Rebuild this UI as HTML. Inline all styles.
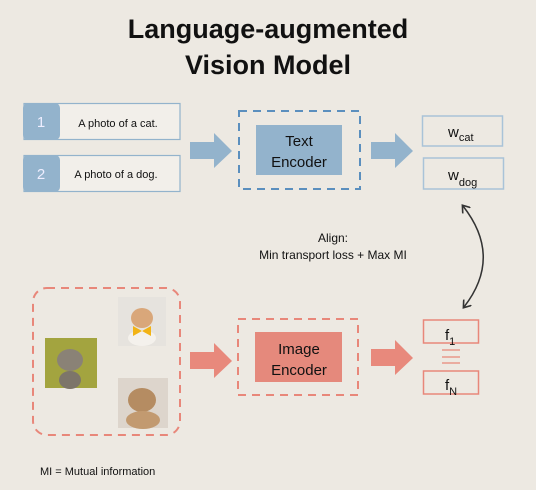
<!DOCTYPE html>
<html><head><style>
body{margin:0;width:536px;height:490px;background:#ede9e2;overflow:hidden;font-family:"Liberation Sans",sans-serif;}
</style></head><body>
<svg width="536" height="490" xmlns="http://www.w3.org/2000/svg" style="position:absolute;left:0;top:0">
<defs>
<marker id="ah" markerWidth="10" markerHeight="10" refX="6" refY="5" orient="auto-start-reverse" markerUnits="userSpaceOnUse"><path d="M0,0 L7,5 L0,10" fill="none" stroke="#333" stroke-width="1.6"/></marker>
</defs>
<text x="268" y="38" text-anchor="middle" font-size="27" font-weight="bold" fill="#111">Language-augmented</text>
<text x="268" y="74" text-anchor="middle" font-size="27" font-weight="bold" fill="#111">Vision Model</text>

<rect x="24" y="103.5" width="156" height="36" fill="#f2efea" stroke="#93b3cc" stroke-width="1.2"/>
<rect x="23" y="103" width="37" height="37" rx="5" fill="#93b3cc"/>
<text x="41" y="127" text-anchor="middle" font-size="15" fill="#eef">1</text>
<text x="118" y="127" text-anchor="middle" font-size="11" fill="#111">A photo of a cat.</text>
<rect x="24" y="155.5" width="156" height="36" fill="#f2efea" stroke="#93b3cc" stroke-width="1.2"/>
<rect x="23" y="155" width="37" height="37" rx="5" fill="#93b3cc"/>
<text x="41" y="179" text-anchor="middle" font-size="15" fill="#eef">2</text>
<text x="116" y="178" text-anchor="middle" font-size="11" fill="#111">A photo of a dog.</text>

<polygon points="190,142 214,142 214,133 232,151 214,168 214,159 190,159" fill="#93b3cc"/>
<polygon points="371,142 395,142 395,133 413,151 395,168 395,159 371,159" fill="#93b3cc"/>

<rect x="239" y="111" width="121" height="78" fill="none" stroke="#5b8fbe" stroke-width="2" stroke-dasharray="8,6"/>
<rect x="256" y="125" width="86" height="50" fill="#93b3cc"/>
<text x="299" y="146" text-anchor="middle" font-size="15" fill="#111">Text</text>
<text x="299" y="167" text-anchor="middle" font-size="15" fill="#111">Encoder</text>

<rect x="422.5" y="116" width="80" height="30" fill="none" stroke="#a9c3d8" stroke-width="1.5"/>
<text x="448" y="137" font-size="15" fill="#111">w<tspan font-size="11" dy="4">cat</tspan></text>
<rect x="423.5" y="158" width="80" height="31" fill="none" stroke="#a9c3d8" stroke-width="1.5"/>
<text x="448" y="180" font-size="15" fill="#111">w<tspan font-size="11" dy="6">dog</tspan></text>

<path d="M463,206 Q503,257 464,307" fill="none" stroke="#333" stroke-width="1.5" marker-start="url(#ah)" marker-end="url(#ah)"/>
<text x="333" y="242" text-anchor="middle" font-size="12" fill="#111">Align:</text>
<text x="333" y="259" text-anchor="middle" font-size="12" fill="#111">Min transport loss + Max MI</text>

<rect x="33" y="288" width="147" height="147" rx="14" fill="none" stroke="#e8877a" stroke-width="2" stroke-dasharray="8,6"/>
<rect x="118" y="297" width="48" height="49" fill="#e6e3de"/>
<ellipse cx="142" cy="318" rx="11" ry="10" fill="#d9a77a"/>
<ellipse cx="142" cy="338" rx="14" ry="8" fill="#f4f1ec"/>
<polygon points="133,326 142,331 151,326 151,336 142,331 133,336" fill="#f2b315"/>
<rect x="45" y="338" width="52" height="50" fill="#a3a43f"/>
<ellipse cx="70" cy="360" rx="13" ry="11" fill="#8a8276"/>
<ellipse cx="70" cy="380" rx="11" ry="9" fill="#7d756a"/>
<rect x="118" y="378" width="50" height="50" fill="#ddd5cc"/>
<ellipse cx="142" cy="400" rx="14" ry="12" fill="#b58c62"/>
<ellipse cx="143" cy="420" rx="17" ry="9" fill="#c29a70"/>

<polygon points="190,352 214,352 214,343 232,361 214,378 214,369 190,369" fill="#e8897c"/>
<polygon points="371,349 395,349 395,340 413,358 395,375 395,366 371,366" fill="#e8897c"/>

<rect x="238" y="319" width="120" height="76" fill="none" stroke="#e8877a" stroke-width="2" stroke-dasharray="8,6"/>
<rect x="255" y="332" width="87" height="50" fill="#e5897c"/>
<text x="299" y="354" text-anchor="middle" font-size="15" fill="#111">Image</text>
<text x="299" y="375" text-anchor="middle" font-size="15" fill="#111">Encoder</text>

<rect x="423.5" y="320" width="55" height="23" fill="none" stroke="#e8877a" stroke-width="1.5"/>
<text x="445" y="340" font-size="15" fill="#111">f<tspan font-size="11" dy="5">1</tspan></text>
<line x1="442" y1="350" x2="460" y2="350" stroke="#e8877a" stroke-width="1.2"/>
<line x1="442" y1="357" x2="460" y2="357" stroke="#e8877a" stroke-width="1.2"/>
<line x1="442" y1="363" x2="460" y2="363" stroke="#e8877a" stroke-width="1.2"/>
<rect x="423.5" y="371" width="55" height="23" fill="none" stroke="#e8877a" stroke-width="1.5"/>
<text x="445" y="390" font-size="15" fill="#111">f<tspan font-size="11" dy="5">N</tspan></text>

<text x="40" y="475" font-size="11" fill="#111">MI = Mutual information</text>
</svg>
</body></html>
